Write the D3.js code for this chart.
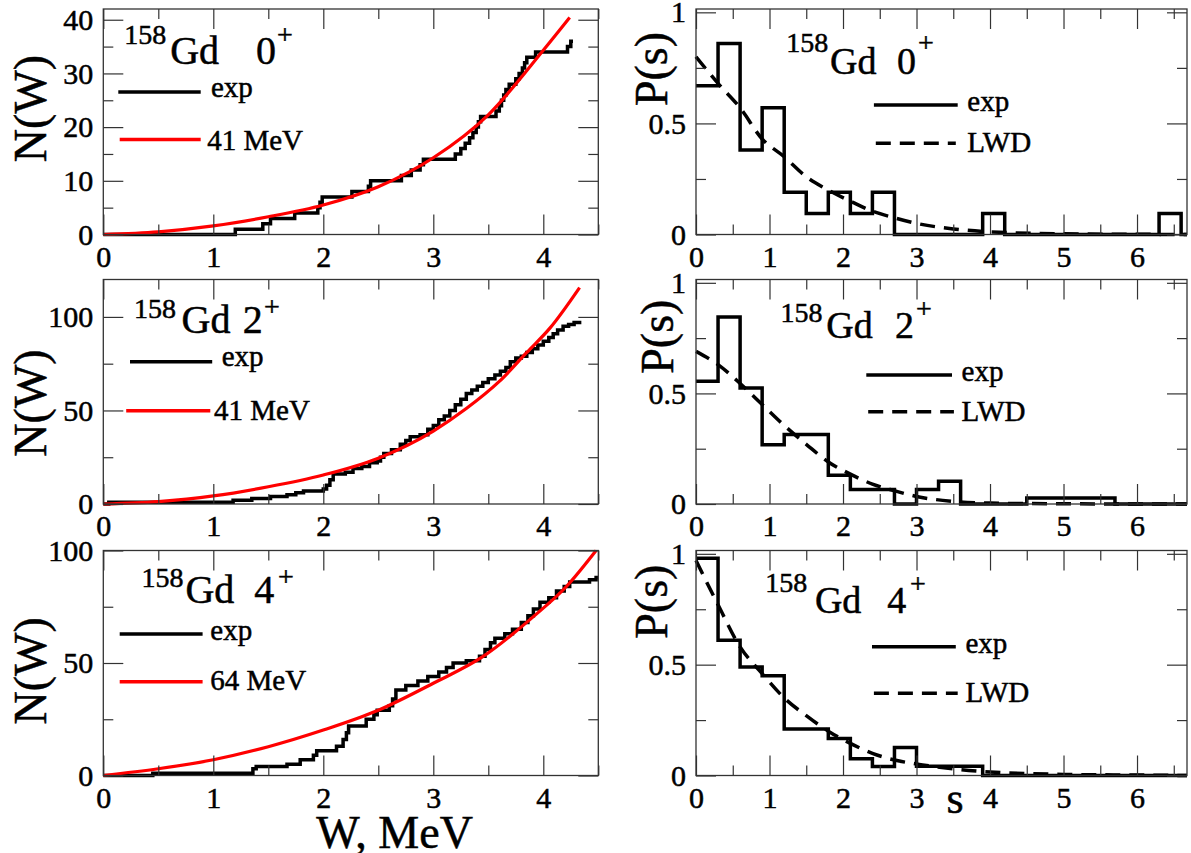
<!DOCTYPE html>
<html>
<head>
<meta charset="utf-8">
<script src="https://cdn.jsdelivr.net/npm/d3@7"></script>
<style>
body { margin: 0; background: #fff; }
svg text { font-family: 'Liberation Serif', 'Times New Roman', serif; fill: #000; stroke: #000; stroke-width: 0.5px; }
</style>
</head>
<body>
<svg id="canvas" width="1191" height="853"></svg>
<script>
// ---- N(W) staircases (exp) : level energy W, cumulative count N ----
let exp0W = [0, 1.2, 1.45, 1.52, 1.74, 1.95, 1.97, 1.99, 2.26, 2.41, 2.43, 2.71, 2.8, 2.88, 2.91, 3.2, 3.25, 3.29, 3.33, 3.36, 3.39, 3.41, 3.43, 3.57, 3.6, 3.62, 3.64, 3.66, 3.69, 3.75, 3.78, 3.81, 3.83, 3.85, 3.93, 4.22, 4.25, 4.27]
let exp0N = [0, 1, 2, 3, 4, 5, 6, 7, 8, 9, 10, 11, 12, 13, 14, 15, 16, 17, 18, 19, 20, 21, 22, 23, 24, 25, 26, 27, 28, 29, 30, 31, 32, 33, 34, 35, 36, 36]

let exp2W = [0, 0.05, 1.18, 1.35, 1.52, 1.67, 1.75, 1.82, 2.0, 2.03, 2.06, 2.09, 2.2, 2.27, 2.35, 2.42, 2.49, 2.52, 2.55, 2.62, 2.7, 2.75, 2.79, 2.88, 2.95, 3.0, 3.05, 3.1, 3.15, 3.2, 3.25, 3.3, 3.35, 3.4, 3.45, 3.5, 3.56, 3.61, 3.66, 3.7, 3.75, 3.8, 3.85, 3.9, 3.95, 4.0, 4.05, 4.09, 4.13, 4.18, 4.23, 4.28, 4.33]
let exp2N = [0, 1, 2, 3, 4, 5, 6, 7, 8, 10, 13, 16, 17, 19, 20, 22, 23, 25, 27, 29, 32, 34, 36, 37, 40, 42, 45, 47, 50, 53, 56, 59, 61, 63, 65, 67, 69, 71, 73, 76, 78, 79, 81, 83, 85, 87, 89, 91, 93, 95, 96, 97, 98]

let exp4W = [0, 0.45, 1.36, 1.39, 1.67, 1.79, 1.91, 1.94, 2.12, 2.18, 2.21, 2.23, 2.39, 2.46, 2.49, 2.6, 2.63, 2.66, 2.75, 2.86, 2.95, 3.05, 3.12, 3.18, 3.3, 3.42, 3.47, 3.52, 3.56, 3.65, 3.72, 3.8, 3.86, 3.91, 3.97, 4.05, 4.12, 4.19, 4.24, 4.42, 4.48, 4.5]
let exp4N = [0, 1, 3, 4, 5, 7, 9, 11, 13, 16, 19, 22, 25, 27, 29, 31, 34, 38, 40, 42, 44, 46, 48, 50, 51, 53, 56, 59, 61, 63, 65, 68, 71, 74, 77, 79, 82, 84, 86, 87, 88, 88]

// ---- N(W) smooth curves (red) ----
let fit0W = [0, 0.5, 1, 1.5, 2, 2.5, 3, 3.5, 4, 4.24]
let fit0N = [0, 0.5, 1.6, 3.3, 5.5, 8.9, 14.3, 22.3, 34.3, 40.4]
let fit2W = [0, 0.5, 1, 1.5, 2, 2.5, 3, 3.3, 3.6, 3.85, 4.06, 4.33]
let fit2N = [0, 1.3, 4.3, 9.2, 15.5, 24.5, 39, 51, 65.5, 81, 94, 115.7]
let fit4W = [0, 0.5, 1, 1.5, 2, 2.5, 3, 3.45, 3.91, 4.21, 4.48]
let fit4N = [0, 3, 7, 12.8, 20.2, 29, 41, 52.8, 70.6, 84, 100]

// ---- P(s) histograms: bins of width 0.3 starting at s = 0 ----
let binS = [0, 0.3, 0.6, 0.9, 1.2, 1.5, 1.8, 2.1, 2.4, 2.7, 3.0, 3.3, 3.6, 3.9, 4.2, 4.5, 4.8, 5.1, 5.4, 5.7, 6.0, 6.3]
let hist0 = [0.67, 0.86, 0.38, 0.57, 0.19, 0.095, 0.19, 0.095, 0.19, 0, 0, 0, 0, 0.095, 0, 0, 0, 0, 0, 0, 0, 0.095]
let hist2 = [0.555, 0.845, 0.525, 0.268, 0.314, 0.314, 0.13, 0.065, 0.065, 0, 0.065, 0.103, 0, 0, 0, 0.027, 0.027, 0.027, 0.027, 0, 0, 0]
let hist4 = [0.98, 0.61, 0.49, 0.45, 0.21, 0.21, 0.167, 0.076, 0.041, 0.126, 0.042, 0.042, 0.042, 0, 0, 0, 0, 0, 0, 0, 0, 0]

// ---- LWD curves (dashed) ----
let lwdS = [0, 0.3, 0.6, 0.9, 1.2, 1.5, 1.8, 2.1, 2.4, 2.7, 3.0, 3.5, 4, 5, 6, 6.68]
let lwd0 = [0.80, 0.68, 0.57, 0.43, 0.35, 0.26, 0.2, 0.15, 0.105, 0.075, 0.05, 0.025, 0.012, 0.003, 0.001, 0]
let lwd2 = [0.69, 0.63, 0.545, 0.45, 0.355, 0.27, 0.19, 0.135, 0.09, 0.06, 0.034, 0.012, 0.004, 0.001, 0, 0]
let lwd4 = [0.97, 0.77, 0.58, 0.46, 0.35, 0.27, 0.2, 0.145, 0.1, 0.07, 0.052, 0.03, 0.016, 0.005, 0.002, 0]

let states = ['0', '2', '4']
let fitLabels = ['41 MeV', '41 MeV', '64 MeV']
let nMax = [42, 120, 100]
let nMajor = [[0, 10, 20, 30, 40], [0, 50, 100], [0, 50, 100]]
let nMinor = [[5, 15, 25, 35], [25, 75], [25, 75]]
let wTicks = [0, 1, 2, 3, 4]
let wMinor = [0.5, 1.5, 2.5, 3.5, 4.5]
let sTicks = [0, 1, 2, 3, 4, 5, 6]
let sMinor = [0.5, 1.5, 2.5, 3.5, 4.5, 5.5, 6.5]
let pTicks = [0, 0.5, 1]
let pMinor = [0.25, 0.75]

let canvas = d3.select('#canvas')

let rowTop = [9, 279.5, 550.5]
let rowBottom = [234.5, 504, 775.5]

let drawAxes = (x, y, xMaj, xMin, yMaj, yMin) => {
    let g = canvas.append('g').attr('color', '#333')
    let [yb, yt] = y.range()
    let [xl, xr] = x.range()

    let ax = (axis, tx, ty) => {
        let a = g.append('g').attr('transform', `translate(${tx},${ty})`).call(axis)
        a.select('.domain').remove()
        a.selectAll('line').attr('stroke-width', 1.2)
        a.selectAll('text')
            .attr('font-family', "'Liberation Serif', serif")
            .attr('font-size', 30)
            .attr('fill', '#000')
        return a
    }

    ax(d3.axisBottom(x).tickValues(xMin).tickSize(-10).tickFormat(''), 0, yb)
    ax(d3.axisTop(x).tickValues(xMin).tickSize(-10).tickFormat(''), 0, yt)
    ax(d3.axisLeft(y).tickValues(yMin).tickSize(-10).tickFormat(''), xl, 0)
    ax(d3.axisRight(y).tickValues(yMin).tickSize(-10).tickFormat(''), xr, 0)

    ax(d3.axisBottom(x).tickValues(xMaj).tickSize(-20).tickPadding(11).tickFormat(d => d), 0, yb)
    ax(d3.axisTop(x).tickValues(xMaj).tickSize(-20).tickFormat(''), 0, yt)
    ax(d3.axisLeft(y).tickValues(yMaj).tickSize(-20).tickPadding(10).tickFormat(d => d), xl, 0)
    ax(d3.axisRight(y).tickValues(yMaj).tickSize(-20).tickFormat(''), xr, 0)

    g.append('rect')
        .attr('x', xl).attr('y', yt)
        .attr('width', xr - xl).attr('height', yb - yt)
        .attr('fill', 'none')
        .attr('stroke', '#333')
        .attr('stroke-width', 1.3)
}

let title = (pos, state, big) => {
    let t = canvas.append('g')
    t.append('text').attr('x', pos[0]).attr('y', pos[1]).attr('font-size', 28).text('158')
    t.append('text').attr('x', pos[2]).attr('y', pos[3]).attr('font-size', big).text('Gd')
    t.append('text').attr('x', pos[4]).attr('y', pos[3]).attr('font-size', big).text(state)
    t.append('text').attr('x', pos[5]).attr('y', pos[6]).attr('font-size', 28).text('+')
}

let legendItem = (x1, x2, y, label, tx, ty, color, dash) => {
    canvas.append('line')
        .attr('x1', x1).attr('x2', x2).attr('y1', y).attr('y2', y)
        .attr('stroke', color)
        .attr('stroke-width', 3.5)
        .attr('stroke-dasharray', dash)
    canvas.append('text').attr('x', tx).attr('y', ty).attr('font-size', 29).text(label)
}

// ---------- left column: N(W) ----------
let expW = [exp0W, exp2W, exp4W]
let expN = [exp0N, exp2N, exp4N]
let fitW = [fit0W, fit2W, fit4W]
let fitN = [fit0N, fit2N, fit4N]

let leftTitles = [
    [124.3, 44, 170.2, 63.6, 256, 277, 44],
    [133.9, 318.3, 181.6, 333.3, 242.7, 264, 316],
    [141.5, 586.7, 185.4, 603.3, 254.2, 278, 586]
]
let leftLegend = [
    [118.3, 200.7, 92, 211, 97, 119.7, 200.7, 139.6, 207.2, 150.3],
    [130, 212.2, 361.7, 221.7, 366, 126.2, 210.3, 410.7, 214, 420],
    [119.7, 202.6, 634, 210.3, 640, 119.7, 202.6, 681.7, 210.3, 690]
]
let nLabelY = [108.5, 403, 670.8]

states.forEach((st, i) => {
    let x = d3.scaleLinear().domain([0, 4.5]).range([103.3, 598.3])
    let y = d3.scaleLinear().domain([0, nMax[i]]).range([rowBottom[i], rowTop[i]])

    let stair = d3.line()
        .x(d => x(d[0])).y(d => y(d[1]))
        .curve(d3.curveStepAfter)
    canvas.append('path')
        .datum(expW[i].map((w, k) => [w, expN[i][k]]))
        .attr('d', stair)
        .attr('fill', 'none')
        .attr('stroke', '#000')
        .attr('stroke-width', 3.5)

    let smooth = d3.line()
        .x(d => x(d[0])).y(d => y(d[1]))
        .curve(d3.curveMonotoneX)
    canvas.append('path')
        .datum(fitW[i].map((w, k) => [w, fitN[i][k]]))
        .attr('d', smooth)
        .attr('fill', 'none')
        .attr('stroke', '#ff0000')
        .attr('stroke-width', 3.2)

    drawAxes(x, y, wTicks, wMinor, nMajor[i], nMinor[i])

    title(leftTitles[i], st, 40)
    let L = leftLegend[i]
    legendItem(L[0], L[1], L[2], 'exp', L[3], L[4], '#000', null)
    legendItem(L[5], L[6], L[7], fitLabels[i], L[8], L[9], '#ff0000', null)

    canvas.append('text')
        .attr('transform', `translate(30,${nLabelY[i]}) rotate(-90)`)
        .attr('text-anchor', 'middle')
        .attr('dominant-baseline', 'central')
        .attr('font-size', 46)
        .text('N(W)')
})

// ---------- right column: P(s) ----------
let hists = [hist0, hist2, hist4]
let lwds = [lwd0, lwd2, lwd4]
let sMax = 6.68

let rightTitles = [
    [786.3, 52, 830, 74, 897, 918, 52],
    [780.6, 322, 826.3, 338.3, 894.9, 916, 318],
    [765.3, 591.7, 814.9, 613, 887.3, 910, 593]
]
let rightLegend = [
    [873.9, 957.7, 105, 967.3, 111, 875.8, 955.8, 143.3, 967.3, 152],
    [866.3, 952, 375, 961.6, 381, 868.2, 953.9, 411.7, 961.6, 421],
    [872, 955.8, 646.7, 965.4, 653, 873.9, 957.7, 693.3, 965.4, 702]
]
let pLabelPos = [[651, 69], [657.7, 336.7], [651, 601.7]]

states.forEach((st, i) => {
    let x = d3.scaleLinear().domain([0, sMax]).range([696, 1187])
    let y = d3.scaleLinear().domain([0, 1.015]).range([rowBottom[i], rowTop[i]])

    let pts = binS.map((s, k) => [s, hists[i][k]])
    pts.push([6.6, 0])
    pts.push([sMax, 0])

    let stair = d3.line()
        .x(d => x(d[0])).y(d => y(d[1]))
        .curve(d3.curveStepAfter)
    canvas.append('path')
        .datum(pts)
        .attr('d', stair)
        .attr('fill', 'none')
        .attr('stroke', '#000')
        .attr('stroke-width', 3.5)

    let smooth = d3.line()
        .x(d => x(d[0])).y(d => y(d[1]))
        .curve(d3.curveMonotoneX)
    canvas.append('path')
        .datum(lwdS.map((s, k) => [s, lwds[i][k]]))
        .attr('d', smooth)
        .attr('fill', 'none')
        .attr('stroke', '#000')
        .attr('stroke-width', 3.5)
        .attr('stroke-dasharray', '15,9')

    drawAxes(x, y, sTicks, sMinor, pTicks, pMinor)

    title(rightTitles[i], st, 38)
    let L = rightLegend[i]
    legendItem(L[0], L[1], L[2], 'exp', L[3], L[4], '#000', null)
    legendItem(L[5], L[6], L[7], 'LWD', L[8], L[9], '#000', '15,9')

    canvas.append('text')
        .attr('transform', `translate(${pLabelPos[i][0]},${pLabelPos[i][1]}) rotate(-90)`)
        .attr('text-anchor', 'middle')
        .attr('dominant-baseline', 'central')
        .attr('font-size', 46)
        .text('P(s)')
})

// axis titles
canvas.append('text')
    .attr('x', 394.5).attr('y', 848)
    .attr('text-anchor', 'middle')
    .attr('font-size', 46)
    .text('W, MeV')

canvas.append('text')
    .attr('x', 955).attr('y', 813)
    .attr('text-anchor', 'middle')
    .attr('font-size', 44)
    .text('s')
</script>
</body>
</html>
